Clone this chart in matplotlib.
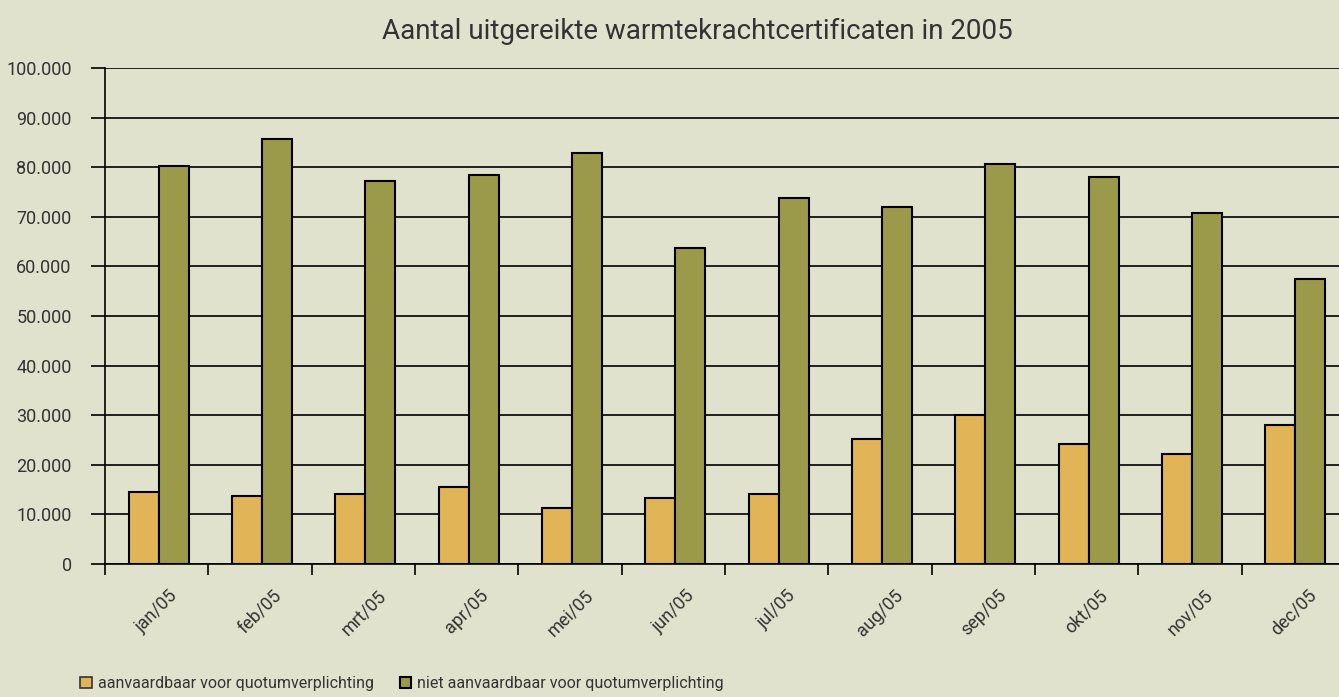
import numpy as np
import matplotlib.pyplot as plt
from matplotlib.patches import Patch

# data
maanden = ['jan/05', 'feb/05', 'mrt/05', 'apr/05', 'mei/05', 'jun/05',
           'jul/05', 'aug/05', 'sep/05', 'okt/05', 'nov/05', 'dec/05']
aanvaardbaar = [14500, 13700, 14100, 15600, 11200, 13300,
                14100, 25200, 30000, 24200, 22100, 28100]
niet_aanvaardbaar = [80200, 85700, 77300, 78500, 82900, 63800,
                     73700, 72000, 80600, 78100, 70800, 57400]
yticks = [0, 10000, 20000, 30000, 40000, 50000, 60000, 70000, 80000, 90000, 100000]
ylabels = ['0', '10.000', '20.000', '30.000', '40.000', '50.000',
           '60.000', '70.000', '80.000', '90.000', '100.000']

bg = '#E1E2CD'
oranje = '#E0B457'
groen = '#9B9A4A'
tekst = '#333333'

plt.rcParams['font.family'] = ['Roboto', 'DejaVu Sans']

fig = plt.figure(figsize=(13.39, 6.97), dpi=100, facecolor=bg)
ax = fig.add_axes([105 / 1339, 1 - 564 / 697, 1240 / 1339, (564 - 68) / 697])
ax.set_facecolor(bg)

x = np.arange(len(maanden))
w = 0.29
ax.bar(x + 0.02 - w / 2, aanvaardbaar, w, color=oranje, edgecolor='black', linewidth=1.5, zorder=3)
ax.bar(x + 0.02 + w / 2, niet_aanvaardbaar, w, color=groen, edgecolor='black', linewidth=1.5, zorder=3)

ax.set_xlim(-0.5, 11.5)
ax.set_ylim(0, 100000)
ax.set_yticks(yticks)
ax.set_yticklabels(ylabels, fontsize=13, color=tekst)
ax.yaxis.grid(True, color='black', linewidth=1.2, zorder=1)
ax.tick_params(axis='y', length=10, width=1.2, color='black', pad=14)

# category separators as ticks, labels at the centres
ax.set_xticks(np.arange(-0.5, 11.6, 1))
ax.set_xticklabels([])
ax.tick_params(axis='x', which='major', length=8, width=1.2, color='black')
ax.set_xticks(x, minor=True)
ax.set_xticklabels(maanden, minor=True, rotation=45, ha='center', va='top',
                   fontsize=13, color=tekst)
ax.tick_params(axis='x', which='minor', length=0, pad=16)

for s in ['top', 'right']:
    ax.spines[s].set_visible(False)
ax.spines['left'].set_linewidth(1.2)
ax.spines['bottom'].set_linewidth(1.2)

fig.text(0.521, 0.955, 'Aantal uitgereikte warmtekrachtcertificaten in 2005',
         ha='center', va='center', fontsize=20, color=tekst)

handles = [Patch(facecolor=oranje, edgecolor='#333333', linewidth=1.2),
           Patch(facecolor=groen, edgecolor='black', linewidth=1.5)]
fig.legend(handles, ['aanvaardbaar voor quotumverplichting',
                     'niet aanvaardbaar voor quotumverplichting'],
           loc='lower left', bbox_to_anchor=(66 / 1339, -0.012), ncol=2, frameon=False,
           fontsize=11.5, handlelength=0.7, handleheight=0.7, handletextpad=0.4,
           columnspacing=1.6, labelcolor=tekst)

fig.savefig('out.png', dpi=100, facecolor=bg)
